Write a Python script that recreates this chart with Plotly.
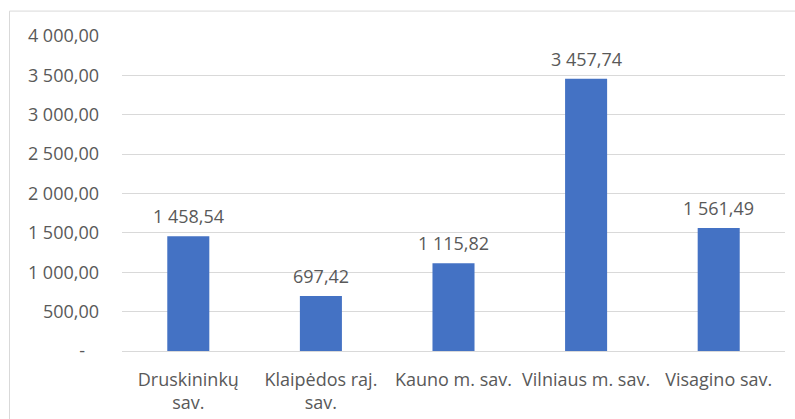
import plotly.graph_objects as go

categories = ["Druskininkų<br>sav.", "Klaipėdos raj.<br>sav.", "Kauno m. sav.", "Vilniaus m. sav.", "Visagino sav."]
values = [1458.54, 697.42, 1115.82, 3457.74, 1561.49]
y_tickvals = [0, 500, 1000, 1500, 2000, 2500, 3000, 3500, 4000]
y_ticktext = ["-\u00a0\u00a0\u00a0", "500,00", "1 000,00", "1 500,00", "2 000,00", "2 500,00", "3 000,00", "3 500,00", "4 000,00"]

def fmt(v):
    return f"{v:,.2f}".replace(",", " ").replace(".", ",")

FONT = "Open Sans"
TXT = "#595959"

fig = go.Figure()
fig.add_trace(go.Bar(x=categories, y=values, marker=dict(color="#4472C4", line=dict(width=0)),
                     hoverinfo="skip"))

for c, v in zip(categories, values):
    fig.add_annotation(x=c, y=v, text=fmt(v), showarrow=False, yanchor="bottom",
                       yshift=6, font=dict(family=FONT, size=18, color=TXT))

W, H = 795, 419
L, R, T, B = 122, 10, 35.5, 67.5
pw = W - L - R
ph = H - T - B
fig.add_shape(type="rect", xref="paper", yref="paper",
              x0=(9.5 - L) / pw, x1=(W + 20 - L) / pw,
              y0=-(H + 20 - (H - B)) / ph, y1=((H - B) - 10.5) / ph,
              line=dict(color="#D9D9D9", width=1), layer="below")

fig.update_layout(
    width=W, height=H,
    margin=dict(l=L, r=R, t=T, b=B, pad=0, autoexpand=False),
    paper_bgcolor="white", plot_bgcolor="white",
    bargap=0.683,
    showlegend=False,
    font=dict(family=FONT, size=18, color=TXT),
    xaxis=dict(showgrid=False, showline=False, zeroline=False, ticks="", automargin=False,
               tickfont=dict(family=FONT, size=18, color=TXT), ticklabelstandoff=16,
               fixedrange=True),
    yaxis=dict(range=[0, 4000], tickvals=y_tickvals, ticktext=y_ticktext, automargin=False,
               showgrid=True, gridcolor="#D9D9D9", gridwidth=1,
               zeroline=True, zerolinecolor="#D9D9D9", zerolinewidth=1,
               showline=False, ticks="", ticklabelstandoff=22,
               tickfont=dict(family=FONT, size=18, color=TXT), fixedrange=True),
)

fig.write_html("out.html", config={"displayModeBar": False},
               post_script="document.body.style.margin='0';document.body.style.overflow='hidden';")
